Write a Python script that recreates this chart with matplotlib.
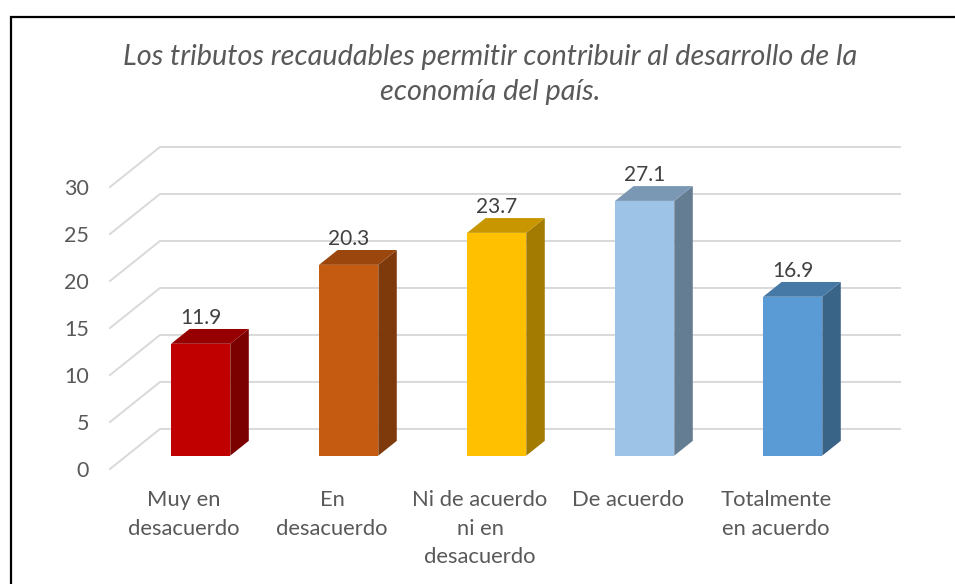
import matplotlib.pyplot as plt
import matplotlib.patches as patches
from matplotlib.colors import to_rgb

# Data
categories = ["Muy en\ndesacuerdo", "En\ndesacuerdo", "Ni de acuerdo\nni en\ndesacuerdo",
              "De acuerdo", "Totalmente\nen acuerdo"]
values = [11.9, 20.3, 23.7, 27.1, 16.9]
colors = ["#C00000", "#C55A11", "#FFC000", "#9DC3E6", "#5B9BD5"]
yticks = [0, 5, 10, 15, 20, 25, 30]
title_lines = ["Los tributos recaudables permitir contribuir al desarrollo de la",
               "economía del país."]

FONT = "Lato"
DX = 0.338   # depth offset of back wall in category units
DY = 4.26    # depth offset of back wall in value units
D0 = 1 / 3   # depth where bars start
BD = 0.37    # bar depth fraction
BW = 0.4     # bar width


def shade(c, f):
    r, g, b = to_rgb(c)
    return (r * f, g * f, b * f)


def main():
    fig = plt.figure(figsize=(9.55, 5.84), dpi=100)
    ax = fig.add_axes([110 / 955, 115 / 584, 740 / 955, 282 / 584])
    ax.set_xlim(-0.5, 4.5)
    ax.set_ylim(0, 30)
    for s in ax.spines.values():
        s.set_visible(False)

    # gridlines: floor/side wall diagonal then back wall
    for v in yticks:
        ax.plot([-0.5, -0.5 + DX, 4.5 + DX], [v, v + DY, v + DY],
                color="#D9D9D9", lw=1.4, clip_on=False, zorder=1)

    x = list(range(len(values)))
    xf = [i + DX * D0 for i in x]
    base = DY * D0
    ax.bar(xf, values, width=BW, bottom=base, color=colors, zorder=3,
           clip_on=False, linewidth=0)

    ox, oy = DX * BD, DY * BD
    for xi, v, c in zip(xf, values, colors):
        l, r = xi - BW / 2, xi + BW / 2
        top = v + base
        side = patches.Polygon([(r, base), (r + ox, base + oy), (r + ox, top + oy), (r, top)],
                               closed=True, color=shade(c, 0.64), lw=0, zorder=3, clip_on=False)
        lid = patches.Polygon([(l, top), (r, top), (r + ox, top + oy), (l + ox, top + oy)],
                              closed=True, color=shade(c, 0.78), lw=0, zorder=3, clip_on=False)
        ax.add_patch(side)
        ax.add_patch(lid)
        ax.annotate(f"{v}", (xi, top + oy), xytext=(0, 1), textcoords="offset points",
                    ha="center", va="bottom", fontsize=15, family=FONT, color="#404040",
                    annotation_clip=False)

    ax.set_xticks(x)
    ax.set_xticklabels(categories, fontsize=15.8, family=FONT, color="#595959",
                       linespacing=1.55)
    ax.set_yticks(yticks)
    ax.set_yticklabels([str(t) for t in yticks], fontsize=15.5, family=FONT, color="#595959")
    ax.tick_params(axis="x", length=0, pad=15)
    ax.tick_params(axis="y", length=0, pad=15)

    # title
    fig.text(490 / 955, 1 - 57 / 584, title_lines[0], ha="center", va="center",
             fontsize=20.8, family=FONT, style="italic", color="#595959")
    fig.text(490 / 955, 1 - 92 / 584, title_lines[1], ha="center", va="center",
             fontsize=20.8, family=FONT, style="italic", color="#595959")

    # chart border (extends past right and bottom edges)
    fig.add_artist(patches.Rectangle((11 / 955, -0.1), 1.1, 1.1 - 17 / 584,
                                     transform=fig.transFigure, fill=False,
                                     edgecolor="black", lw=1.6))

    fig.savefig("out.png", dpi=100)


if __name__ == "__main__":
    main()
